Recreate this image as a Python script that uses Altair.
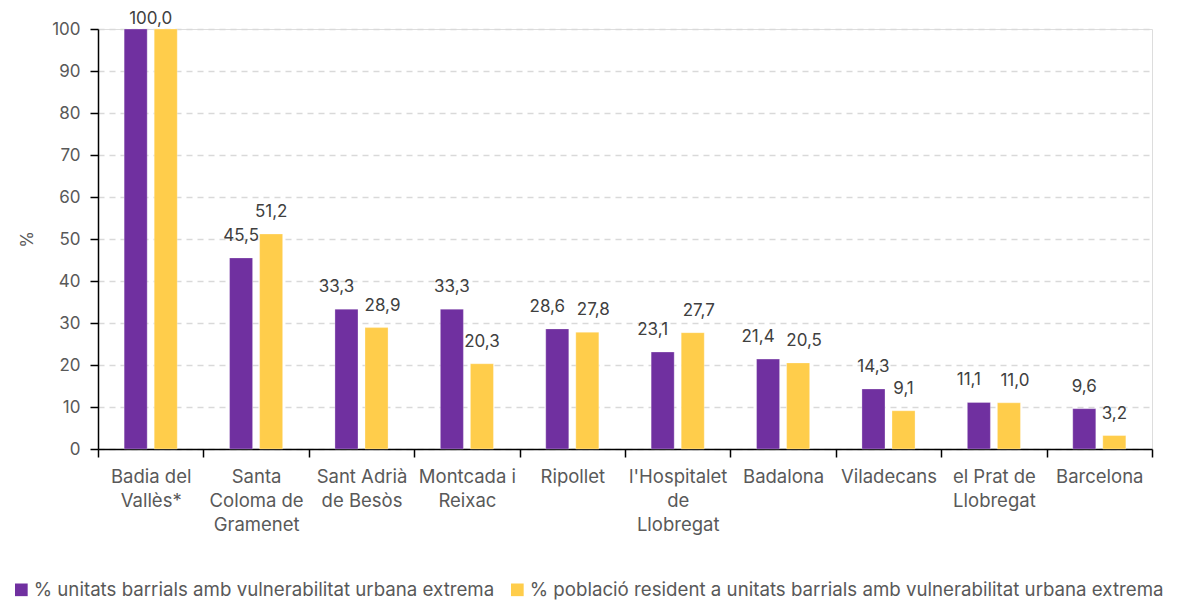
import altair as alt
import pandas as pd

categories = [
    "Badia del\nVallès*",
    "Santa\nColoma de\nGramenet",
    "Sant Adrià\nde Besòs",
    "Montcada i\nReixac",
    "Ripollet",
    "l'Hospitalet\nde\nLlobregat",
    "Badalona",
    "Viladecans",
    "el Prat de\nLlobregat",
    "Barcelona",
]
series_names = [
    "% unitats barrials amb vulnerabilitat urbana extrema",
    "% població resident a unitats barrials amb vulnerabilitat urbana extrema",
]
units_pct = [100.0, 45.5, 33.3, 33.3, 28.6, 23.1, 21.4, 14.3, 11.1, 9.6]
population_pct = [100.0, 51.2, 28.9, 20.3, 27.8, 27.7, 20.5, 9.1, 11.0, 3.2]
colors = ["#7030A0", "#FFCD4B"]
y_ticks = list(range(0, 101, 10))

rows = []
for c, a, b in zip(categories, units_pct, population_pct):
    close = abs(a - b) < 5 and max(a, b) < 100  # labels would collide
    rows.append({"cat": c, "serie": series_names[0], "val": a, "close": close})
    rows.append({"cat": c, "serie": series_names[1], "val": b, "close": close})
df = pd.DataFrame(rows)
df["label"] = df["val"].map(lambda v: f"{v:.1f}".replace(".", ","))

# labels of bars reaching the top of the scale collapse into one centred label
df_top = df[(df["val"] >= 100) & (df["serie"] == series_names[0])]
df_plain = df[(df["val"] < 100) & (~df["close"])]
df_close_a = df[df["close"] & (df["serie"] == series_names[0])]
df_close_b = df[df["close"] & (df["serie"] == series_names[1])]

FONT = "Inter"
GREY = "#595959"

x_enc = alt.X(
    "cat:N",
    sort=categories,
    scale=alt.Scale(paddingInner=0, paddingOuter=0),
    axis=alt.Axis(
        title=None,
        labelAngle=0,
        labelExpr="split(datum.label, '\\n')",
        labelLineHeight=24,
        labelFontSize=18.5,
        labelColor=GREY,
        labelFont=FONT,
        labelPadding=10,
        labelBaseline="top",
        labelLimit=200,
        tickBand="extent",
        tickSize=8,
        tickColor="#000000",
        tickWidth=1.5,
        domainColor="#000000",
        domainWidth=1.5,
        grid=False,
    ),
)
xoff = alt.XOffset(
    "serie:N",
    sort=series_names,
    scale=alt.Scale(paddingInner=0.233, paddingOuter=0.87),
)
y_enc = alt.Y(
    "val:Q",
    scale=alt.Scale(domain=[0, 100], nice=False),
    axis=alt.Axis(
        title="%",
        titleAngle=-90,
        titleX=-71,
        titleY=210,
        titleAlign="center",
        titleBaseline="middle",
        titleFontSize=17,
        titleFontWeight="normal",
        titleColor=GREY,
        titleFont=FONT,
        values=y_ticks,
        labelFontSize=17,
        labelColor=GREY,
        labelFont=FONT,
        labelPadding=10,
        tickSize=8,
        tickColor="#000000",
        tickWidth=1.5,
        domainColor="#000000",
        domainWidth=1.5,
        grid=True,
        gridColor="#D9D9D9",
        gridDash=[6, 5],
        gridWidth=1.5,
    ),
)

bars = alt.Chart(df).mark_bar(stroke="#ffffff", strokeWidth=0.5, strokeOpacity=0.6).encode(
    x=x_enc,
    xOffset=xoff,
    y=y_enc,
    color=alt.Color(
        "serie:N",
        sort=series_names,
        scale=alt.Scale(domain=series_names, range=colors),
        legend=alt.Legend(
            title=None,
            orient="none",
            direction="horizontal",
            legendX=-86,
            legendY=551,
            symbolType="square",
            symbolSize=160,
            symbolStrokeWidth=0,
            symbolOpacity=1,
            labelFontSize=18.7,
            labelColor=GREY,
            labelFont=FONT,
            labelLimit=900,
            columnPadding=13,
            symbolOffset=0,
            labelOffset=3,
        ),
    ),
)


def value_labels(data, dx=0, use_offset=True, dy=-17):
    enc = dict(
        x=alt.X("cat:N", sort=categories),
        y="val:Q",
        text="label:N",
    )
    if use_offset:
        enc["xOffset"] = alt.XOffset("serie:N", sort=series_names)
    return alt.Chart(data).mark_text(
        baseline="alphabetic", dx=dx, dy=dy, fontSize=17, color="#404040", font=FONT
    ).encode(**enc)


labels_plain = value_labels(df_plain)
labels_a = value_labels(df_close_a, dx=-10)
labels_b = value_labels(df_close_b, dx=6)
top_labels = value_labels(df_top, use_offset=False, dy=-5)

chart = (
    alt.layer(bars, labels_plain, labels_a, labels_b, top_labels)
    .properties(
        width=1054,
        height=420,
        autosize=alt.AutoSizeParams(type="none"),
        padding={"left": 90, "top": 21, "right": 22, "bottom": 160},
    )
    .configure_view(stroke=None)
    .configure(font=FONT)
)

chart.save("out.html", embed_options={"renderer": "svg", "actions": False})
